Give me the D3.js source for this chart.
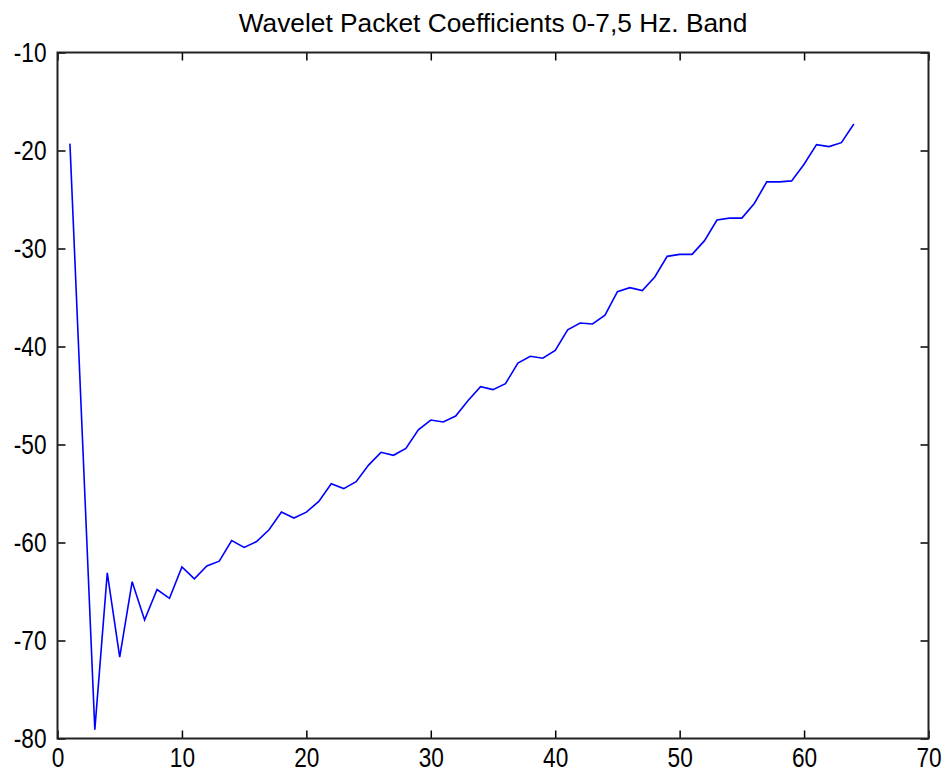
<!DOCTYPE html>
<html>
<head>
<meta charset="utf-8">
<script src="https://cdn.jsdelivr.net/npm/d3@7"></script>
<style>
  html, body { margin: 0; padding: 0; background: #fff; }
  svg { display: block; }
  text { fill: #000; }
</style>
</head>
<body>
<svg id="chart" width="945" height="773"></svg>
<script>
// Wavelet packet coefficients, 0-7.5 Hz band (index 1..64)
const titleText = "Wavelet Packet Coefficients 0-7,5 Hz. Band";
const coefIndex = d3.range(1, 65);
const coefValues = [
  -19.3, -49.2, -79.1, -63.1, -71.7, -64.0, -67.9, -64.8, -65.7, -62.5,
  -63.7, -62.4, -61.9, -59.8, -60.5, -59.9, -58.7, -56.9, -57.5, -56.9,
  -55.8, -54.0, -54.5, -53.8, -52.1, -50.8, -51.1, -50.4, -48.5, -47.5,
  -47.7, -47.1, -45.5, -44.1, -44.4, -43.8, -41.7, -41.0, -41.2, -40.4,
  -38.3, -37.6, -37.7, -36.8, -34.4, -34.0, -34.3, -32.9, -30.8, -30.6,
  -30.6, -29.2, -27.1, -26.9, -26.9, -25.4, -23.2, -23.2, -23.1, -21.4,
  -19.4, -19.6, -19.2, -17.3
];
const xTicks = [0, 10, 20, 30, 40, 50, 60, 70];
const yTicks = [-80, -70, -60, -50, -40, -30, -20, -10];

const svg = d3.select("#chart");
const margin = { left: 57.5, right: 945 - 928.5, top: 52.5, bottom: 773 - 738.5 };
const W = 945 - margin.left - margin.right;
const H = 773 - margin.top - margin.bottom;

const x = d3.scaleLinear().domain([0, 70]).range([margin.left, margin.left + W]);
const y = d3.scaleLinear().domain([-80, -10]).range([margin.top + H, margin.top]);

// series line
const line = d3.line().x((d, i) => x(coefIndex[i])).y(d => y(d));
svg.append("path")
  .datum(coefValues)
  .attr("fill", "none")
  .attr("stroke", "#0000ff")
  .attr("stroke-width", 1.6)
  .attr("d", line);

// boxed axes with inward ticks on all four sides
const tickLen = 8;
const narrow = 0.84; // condensed tick numerals
const fmt = d => String(d);
const styleAxis = g => {
  g.select(".domain").remove();
  g.selectAll(".tick line").attr("stroke", "#000").attr("stroke-width", 1.5);
  g.selectAll(".tick text")
    .style("font-size", "27px")
    .style("font-family", "'Liberation Sans', Arial, sans-serif");
};

const bottomAxis = svg.append("g")
  .attr("transform", `translate(0,${y(-80)})`)
  .call(d3.axisBottom(x).tickValues(xTicks).tickFormat(fmt).tickSizeInner(-tickLen).tickSizeOuter(0).tickPadding(9))
  .call(styleAxis);
bottomAxis.selectAll(".tick text").each(function () {
  const t = d3.select(this);
  const ty = +t.attr("y");
  t.attr("y", null).attr("transform", `translate(0,${ty}) scale(${narrow},1)`);
});

svg.append("g")
  .attr("transform", `translate(0,${y(-10)})`)
  .call(d3.axisTop(x).tickValues(xTicks).tickFormat("").tickSizeInner(-tickLen).tickSizeOuter(0))
  .call(styleAxis);

const leftAxis = svg.append("g")
  .attr("transform", `translate(${x(0)},0)`)
  .call(d3.axisLeft(y).tickValues(yTicks).tickFormat(fmt).tickSizeInner(-tickLen).tickSizeOuter(0).tickPadding(11))
  .call(styleAxis);
leftAxis.selectAll(".tick text").each(function () {
  const t = d3.select(this);
  const tx = +t.attr("x");
  t.attr("x", null).attr("transform", `translate(${tx},0) scale(${narrow},1)`);
});

svg.append("g")
  .attr("transform", `translate(${x(70)},0)`)
  .call(d3.axisRight(y).tickValues(yTicks).tickFormat("").tickSizeInner(-tickLen).tickSizeOuter(0))
  .call(styleAxis);

// frame
svg.append("rect")
  .attr("x", x(0)).attr("y", y(-10))
  .attr("width", x(70) - x(0)).attr("height", y(-80) - y(-10))
  .attr("fill", "none").attr("stroke", "#222").attr("stroke-width", 2);

// title
svg.append("text")
  .attr("x", (x(0) + x(70)) / 2)
  .attr("y", 32)
  .attr("text-anchor", "middle")
  .style("font-family", "'Liberation Sans', Arial, sans-serif")
  .style("font-size", "26.3px")
  .text(titleText);
</script>
</body>
</html>
